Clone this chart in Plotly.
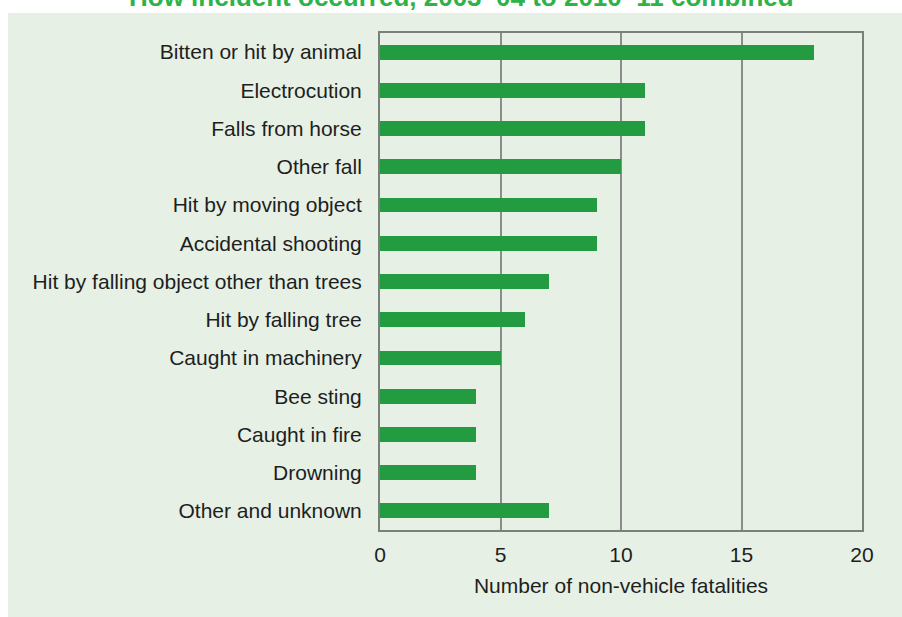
import plotly.graph_objects as go

# Non-vehicle fatalities by how the incident occurred
categories = [
    'Bitten or hit by animal',
    'Electrocution',
    'Falls from horse',
    'Other fall',
    'Hit by moving object',
    'Accidental shooting',
    'Hit by falling object other than trees',
    'Hit by falling tree',
    'Caught in machinery',
    'Bee sting',
    'Caught in fire',
    'Drowning',
    'Other and unknown',
]
fatalities = [18, 11, 11, 10, 9, 9, 7, 6, 5, 4, 4, 4, 7]

title_text = 'How incident occurred, 2003\u201304 to 2010\u201311 combined'
x_ticks = [0, 5, 10, 15, 20]

W, H = 902, 617
ML, MR, MT, MB = 380, 40, 33, 87
panel_color = '#E6F0E5'
frame_color = '#7B807A'
grid_color = '#8C8C8C'
font = 'Liberation Sans, Arial, sans-serif'

plot_w = W - ML - MR
plot_h = H - MT - MB


def px_x(p):
    return (p - ML) / plot_w


def px_y(p):
    return (H - MB - p) / plot_h


fig = go.Figure()

fig.add_trace(go.Bar(
    x=fatalities,
    y=categories,
    orientation='h',
    width=0.39,
    marker=dict(color='#239B41', line=dict(width=0)),
    hoverinfo='x+y',
))

# white page strips above and left of the green panel
fig.add_shape(
    type='rect', xref='paper', yref='paper', layer='below',
    x0=px_x(-10), x1=px_x(920), y0=px_y(13), y1=px_y(-10),
    fillcolor='white', line=dict(width=0),
)
fig.add_shape(
    type='rect', xref='paper', yref='paper', layer='below',
    x0=px_x(-10), x1=px_x(8), y0=px_y(630), y1=px_y(-10),
    fillcolor='white', line=dict(width=0),
)

# title, cut off by the top edge
fig.add_annotation(
    text='<b>' + title_text + '</b>',
    xref='paper', yref='paper',
    x=px_x(461), y=px_y(14),
    xanchor='center', yanchor='bottom',
    showarrow=False,
    font=dict(family=font, size=26, color='#2DB34A'),
)

fig.update_layout(
    width=W,
    height=H,
    margin=dict(l=ML, r=MR, t=MT, b=MB),
    paper_bgcolor=panel_color,
    plot_bgcolor=panel_color,
    showlegend=False,
    bargap=0,
    font=dict(family=font, size=21, color='#1E1E1E'),
    xaxis=dict(
        range=[0, 20],
        tickvals=x_ticks,
        ticks='',
        showgrid=True,
        gridcolor=grid_color,
        gridwidth=1.5,
        zeroline=False,
        showline=True,
        linecolor=frame_color,
        linewidth=2,
        mirror=True,
        tickfont=dict(size=21),
        ticklabelstandoff=5,
        title=dict(text='Number of non-vehicle fatalities', font=dict(size=21), standoff=13),
    ),
    yaxis=dict(
        autorange='reversed',
        showgrid=False,
        zeroline=False,
        showline=True,
        linecolor=frame_color,
        linewidth=2,
        mirror=True,
        ticks='',
        tickfont=dict(size=21),
        ticklabelstandoff=12,
    ),
)

# page body margin removed so the figure sits at the window's corner
fig.write_html(
    'out.html',
    config={'displayModeBar': False},
    post_script="document.body.style.margin='0';document.body.style.overflow='hidden';",
)
